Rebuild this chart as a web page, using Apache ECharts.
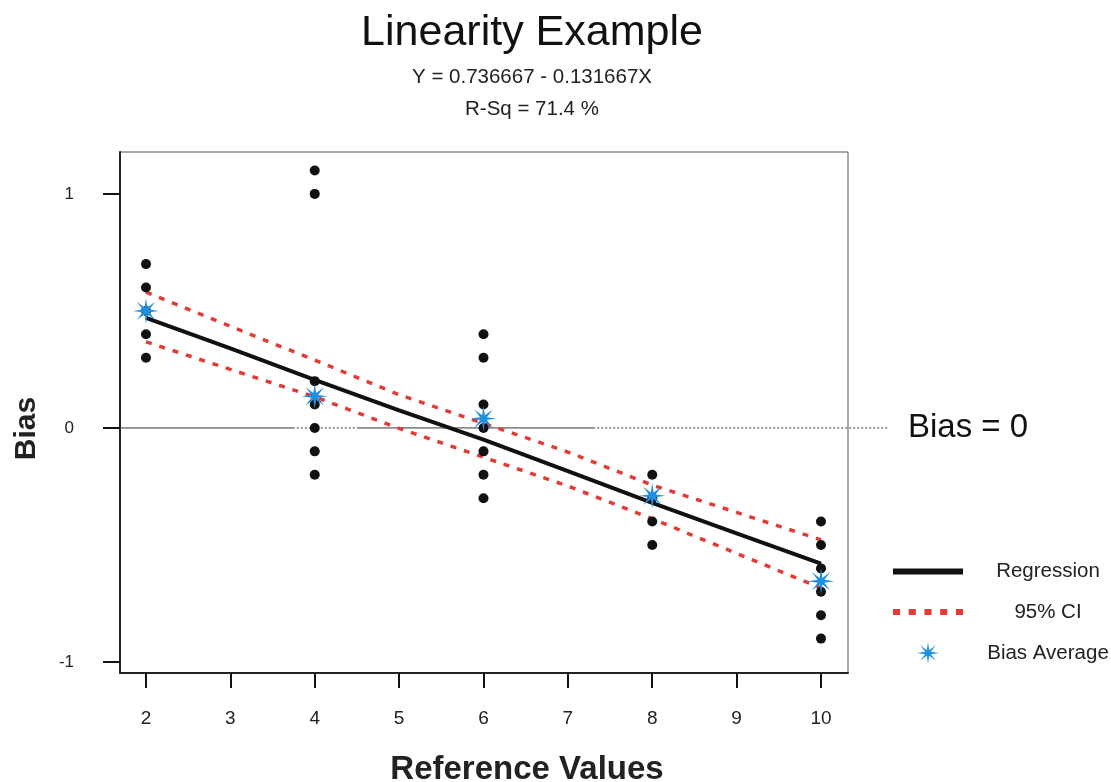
<!DOCTYPE html>
<html>
<head>
<meta charset="utf-8">
<script src="https://cdn.jsdelivr.net/npm/echarts@6/dist/echarts.min.js"></script>
<style>
html,body{margin:0;padding:0;background:#fff;}
#chart{width:1111px;height:782px;}
</style>
</head>
<body>
<div id="chart"></div>
<script>
// ---- data ----
const titleText = 'Linearity Example';
const equationText = 'Y = 0.736667 - 0.131667X';
const rsqText = 'R-Sq = 71.4 %';
const xTickLabels = [2, 3, 4, 5, 6, 7, 8, 9, 10];
const yTickLabels = [-1, 0, 1];
const refValues = [2, 4, 6, 8, 10];
const biasAt2 = [0.7, 0.6, 0.5, 0.4, 0.3];
const biasAt4 = [1.1, 1.0, 0.2, 0.1, 0.0, -0.1, -0.2];
const biasAt6 = [0.4, 0.3, 0.1, 0.0, -0.1, -0.2, -0.3];
const biasAt8 = [-0.2, -0.3, -0.4, -0.5];
const biasAt10 = [-0.4, -0.5, -0.6, -0.7, -0.8, -0.9];
const biasAverage = [0.5, 0.135, 0.04, -0.29, -0.655];
const fitX = [2, 3, 4, 5, 6, 7, 8, 9, 10];
const regression = [0.47, 0.34, 0.205, 0.075, -0.05, -0.185, -0.32, -0.45, -0.58];
const ciUpper = [0.58, 0.434, 0.29, 0.142, 0.02, -0.103, -0.244, -0.361, -0.478];
const ciLower = [0.368, 0.25, 0.133, -0.002, -0.125, -0.248, -0.388, -0.536, -0.684];
// zero reference line pieces: [fromX, toX, dotted]
const zeroLinePieces = [[1.692, 3.74, false], [3.74, 4.51, true], [4.51, 7.30, false], [7.30, 10.794, true]];
const zeroLabel = 'Bias = 0';

// ---- build ----
const FONT = '"Liberation Sans", Arial, sans-serif';
const NARROW = '"Liberation Sans Narrow", "Liberation Sans", Arial, sans-serif';
const X_MIN = 1.692, X_MAX = 10.32, Y_MIN = -1.047, Y_MAX = 1.179;
const biasGroups = [biasAt2, biasAt4, biasAt6, biasAt8, biasAt10];
const dots = [];
biasGroups.forEach((g, i) => g.forEach(v => dots.push([refValues[i], v])));
const pair = (xs, ys) => xs.map((x, i) => [x, ys[i]]);

// asterisk-like star symbol
let starPath = 'path://';
for (let i = 0; i < 16; i++) {
  const a = i * Math.PI / 8 - Math.PI / 2;
  const r = (i % 2 === 0) ? 100 : 28;
  starPath += (i === 0 ? 'M' : 'L') + (r * Math.cos(a)).toFixed(2) + ' ' + (r * Math.sin(a)).toFixed(2) + ' ';
}
starPath += 'Z';
const regIcon = 'path://M0 0H70V6H0Z';
const ciIcon = 'path://M0 0H7V6H0Z M15.5 0H22.5V6H15.5Z M31 0H38V6H31Z M46.5 0H53.5V6H46.5Z M62 0H69V6H62Z';

const series = [];
zeroLinePieces.forEach((p, i) => {
  const last = i === zeroLinePieces.length - 1;
  series.push({
    type: 'line', name: 'zero' + i, xAxisIndex: 1, yAxisIndex: 1,
    data: [[p[0], 0], [p[1], 0]],
    showSymbol: false, symbol: 'none', silent: true, z: 1,
    lineStyle: { color: '#333', width: 1, type: p[2] ? [2, 2] : 'solid' },
    endLabel: last ? { show: true, formatter: zeroLabel, distance: 20, fontSize: 33, fontFamily: FONT, color: '#111' } : { show: false }
  });
});
series.push({
  type: 'line', name: '95% CI', data: pair(fitX, ciUpper), symbol: 'none', z: 3,
  lineStyle: { color: '#e23b36', width: 3.5, type: [6, 8] }, itemStyle: { color: '#e23b36' }
});
series.push({
  type: 'line', name: '95% CI', data: pair(fitX, ciLower), symbol: 'none', z: 3,
  lineStyle: { color: '#e23b36', width: 3.5, type: [6, 8] }, itemStyle: { color: '#e23b36' }
});
series.push({
  type: 'line', name: 'Regression', data: pair(fitX, regression), symbol: 'none', z: 3,
  lineStyle: { color: '#111', width: 4 }, itemStyle: { color: '#111' }
});
series.push({
  type: 'scatter', name: 'Bias', data: dots, symbol: 'circle', symbolSize: 10, z: 4,
  itemStyle: { color: '#111', opacity: 1 }
});
series.push({
  type: 'scatter', name: 'Bias Average', data: pair(refValues, biasAverage), symbol: starPath, symbolSize: 26, z: 5,
  itemStyle: { color: '#1f8fe0', opacity: 1 }
});

const option = {
  backgroundColor: '#fff',
  animation: false,
  title: [
    { text: titleText, left: 527, textAlign: 'center', top: 7, textStyle: { fontFamily: FONT, fontSize: 43, fontWeight: 'normal', color: '#111' } },
    { text: equationText, left: 527, textAlign: 'center', top: 62, textStyle: { fontFamily: FONT, fontSize: 20.5, fontWeight: 'normal', color: '#222' } },
    { text: rsqText, left: 527, textAlign: 'center', top: 94, textStyle: { fontFamily: FONT, fontSize: 20.5, fontWeight: 'normal', color: '#222' } }
  ],
  grid: [
    { left: 120, right: 263, top: 152, bottom: 109, show: true, borderColor: '#555', borderWidth: 1, containLabel: false, outerBoundsMode: 'none' },
    { left: 120, right: 223, top: 152, bottom: 109, show: false, containLabel: false, outerBoundsMode: 'none' }
  ],
  xAxis: [{
    type: 'value', min: X_MIN, max: X_MAX, gridIndex: 0,
    axisLine: { show: true, onZero: false, lineStyle: { color: '#222', width: 2 } },
    axisTick: { show: true, length: 15, customValues: xTickLabels, lineStyle: { color: '#111', width: 2 } },
    axisLabel: { customValues: xTickLabels, margin: 36, fontSize: 19, fontFamily: NARROW, color: '#222' },
    splitLine: { show: false },
    name: 'Reference Values', nameLocation: 'middle', nameGap: 80,
    nameTextStyle: { fontFamily: FONT, fontSize: 33, fontWeight: 'bold', color: '#222', padding: [0, 0, 0, 86] }
  }, {
    type: 'value', gridIndex: 1, min: X_MIN, max: 10.794,
    show: false
  }],
  yAxis: [{
    type: 'value', min: Y_MIN, max: Y_MAX, gridIndex: 0,
    axisLine: { show: true, onZero: false, lineStyle: { color: '#222', width: 2 } },
    axisTick: { show: true, length: 17, customValues: yTickLabels, lineStyle: { color: '#111', width: 2 } },
    axisLabel: { customValues: yTickLabels, margin: 46, fontSize: 17, fontFamily: FONT, color: '#222' },
    splitLine: { show: false },
    name: 'Bias', nameLocation: 'middle', nameGap: 78, nameRotate: 90,
    nameTextStyle: { fontFamily: FONT, fontSize: 30, fontWeight: 'bold', color: '#222', padding: [0, 32, 0, 0] }
  }, {
    type: 'value', gridIndex: 1, min: Y_MIN, max: Y_MAX, show: false
  }],
  legend: {
    data: [
      { name: 'Regression', icon: regIcon, itemStyle: { color: '#111' } },
      { name: '95% CI', icon: ciIcon, itemStyle: { color: '#e23b36' } },
      { name: 'Bias Average', icon: starPath }
    ],
    orient: 'vertical', left: 888, top: 556, itemWidth: 70, itemHeight: 22, itemGap: 19.5,
    selectedMode: false,
    formatter: '{c|{name}}',
    textStyle: { fontFamily: FONT, fontSize: 20.5, color: '#222', rich: { c: { width: 160, align: 'center', fontSize: 20.5, fontFamily: FONT, color: '#222' } } }
  },
  series: series
};

const chart = echarts.init(document.getElementById('chart'), null, { renderer: 'canvas' });
chart.setOption(option);
</script>
</body>
</html>
